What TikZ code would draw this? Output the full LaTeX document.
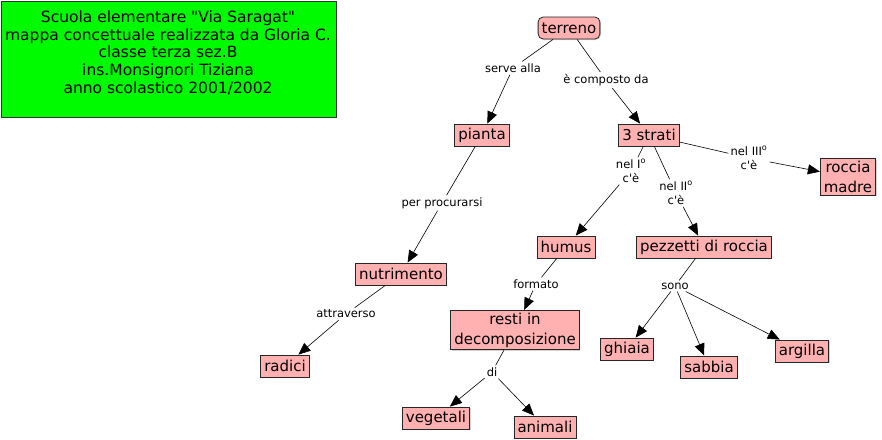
\documentclass[tikz,border=0pt]{standalone}
\usepackage{fontspec}
\setmainfont{DejaVu Sans}[Ligatures=TeXOff]
\usetikzlibrary{arrows.meta,shadows}
\definecolor{boxpink}{RGB}{255,176,176}
\definecolor{titlegreen}{RGB}{0,250,0}
\tikzset{
  concept/.style={draw=black!85, fill=boxpink, line width=0.8pt, inner xsep=3.5pt, inner ysep=2.5pt,
    minimum height=22pt, align=center, font=\fontsize{15}{20}\selectfont,
    drop shadow={shadow xshift=1pt, shadow yshift=-1pt, opacity=0.35}},
  lbl/.style={inner sep=2pt, align=center, font=\fontsize{11.5}{14}\selectfont},
  link/.style={line width=0.6pt, black},
  arr/.style={link, -{Triangle[length=12pt,width=10pt]}}
}
\begin{document}
\begin{tikzpicture}[x=1pt,y=-1pt]
\useasboundingbox (0,0) rectangle (882,439);
\node[draw=black!80, fill=titlegreen, line width=1pt, minimum width=335pt, minimum height=116pt,
  anchor=north west, inner sep=0pt] (title) at (1,1) {};
\node[align=center, anchor=north, inner sep=0pt, font=\fontsize{15.5}{17.7}\selectfont] (titletext) at (168,10.5)
  {Scuola elementare "Via Saragat"\\ mappa concettuale realizzata da Gloria C.\\ classe terza sez.B\\ ins.Monsignori Tiziana\\ anno scolastico 2001/2002};

\node[concept, rounded corners=5pt] (terreno) at (569,28) {terreno};
\node[concept] (pianta) at (482,135) {pianta};
\node[concept] (strati) at (649,135) {3 strati};
\node[concept] (roccia) at (848,177) {roccia\\madre};
\node[concept] (humus) at (566,247) {humus};
\node[concept] (pezzetti) at (704,247) {pezzetti di roccia};
\node[concept] (nutrimento) at (401,274) {nutrimento};
\node[concept] (resti) at (515,330) {resti in\\decomposizione};
\node[concept] (radici) at (285,366) {radici};
\node[concept] (ghiaia) at (627,349) {ghiaia};
\node[concept] (sabbia) at (709,367) {sabbia};
\node[concept] (argilla) at (802,351) {argilla};
\node[concept] (vegetali) at (436,418) {vegetali};
\node[concept] (animali) at (545,427) {animali};

\node[lbl] (l1) at (513,68) {serve alla};
\node[lbl] (l2) at (606,80) {è composto da};
\node[lbl] (l3) at (442,203) {per procurarsi};
\node[lbl] (l4) at (631,171) {nel I\textsuperscript{o}\\c'è};
\node[lbl] (l5) at (676,193) {nel II\textsuperscript{o}\\c'è};
\node[lbl] (l6) at (749,158) {nel III\textsuperscript{o}\\c'è};
\node[lbl] (l7) at (536,284) {formato};
\node[lbl] (l8) at (675,286) {sono};
\node[lbl] (l9) at (346,314) {attraverso};
\node[lbl] (l10) at (492,372) {di};

\draw[link] (terreno) -- (l1);
\draw[arr] (l1) -- (pianta);
\draw[link] (terreno) -- (l2);
\draw[arr] (l2) -- (strati);
\draw[link] (pianta) -- (l3);
\draw[arr] (l3) -- (nutrimento);
\draw[link] (strati) -- (l4);
\draw[arr] (l4) -- (humus);
\draw[link] (strati) -- (l5);
\draw[arr] (l5) -- (pezzetti);
\draw[link] (strati) -- (l6);
\draw[arr] (l6) -- (roccia);
\draw[link] (humus) -- (l7);
\draw[arr] (l7) -- (resti);
\draw[link] (pezzetti) -- (l8);
\draw[arr] (l8) -- (ghiaia);
\draw[arr] (l8) -- (sabbia);
\draw[arr] (l8) -- (argilla);
\draw[link] (nutrimento) -- (l9);
\draw[arr] (l9) -- (radici);
\draw[link] (resti) -- (l10);
\draw[arr] (l10) -- (vegetali);
\draw[arr] (l10) -- (animali);
\end{tikzpicture}
\end{document}
